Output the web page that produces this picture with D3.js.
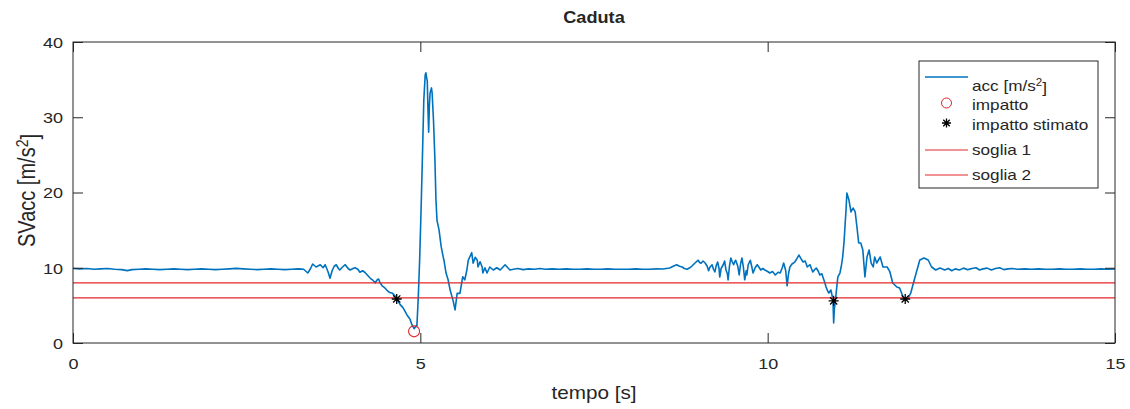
<!DOCTYPE html>
<html><head><meta charset="utf-8">
<script src="https://cdn.jsdelivr.net/npm/d3@7"></script>
<style>
body{margin:0;background:#fff}
svg{display:block}
text{font-family:Arial,"Liberation Sans",sans-serif;fill:#262626}
</style></head>
<body><svg id="c" width="1130" height="409"></svg>
<script>
// ---------- DATA ----------
const accData = [
[0,9.9],[0.1,9.85],[0.2,9.9],[0.3,9.8],[0.4,9.85],[0.5,9.9],[0.6,9.8],[0.7,9.75],[0.78,9.62],[0.85,9.75],[0.95,9.8],[1.05,9.85],[1.15,9.8],[1.25,9.75],[1.35,9.8],[1.45,9.85],[1.55,9.8],[1.65,9.75],[1.75,9.8],[1.85,9.85],[1.95,9.8],[2.05,9.75],[2.15,9.8],[2.25,9.85],[2.35,9.92],[2.45,9.85],[2.55,9.8],[2.65,9.75],[2.75,9.8],[2.85,9.85],[2.95,9.8],[3.05,9.75],[3.15,9.8],[3.25,9.85],[3.32,9.8],
[3.38,9.3],[3.42,9.9],[3.45,10.5],[3.50,10.1],[3.56,10.4],[3.60,10.0],[3.63,10.4],[3.67,9.5],[3.70,8.6],[3.73,9.6],[3.76,10.2],[3.79,10.4],[3.82,9.9],[3.84,9.7],[3.88,10.1],[3.92,10.4],[3.96,9.9],[3.99,9.7],[4.03,9.9],[4.06,10.0],[4.10,9.8],[4.13,9.4],[4.17,9.6],[4.20,9.4],[4.24,9.0],[4.28,8.6],[4.31,8.4],[4.35,8.0],[4.38,8.4],[4.40,8.5],[4.42,8.0],[4.45,7.6],[4.48,7.4],[4.52,7.0],[4.56,6.7],[4.60,6.6],[4.64,6.2],[4.66,5.85],[4.71,5.1],[4.75,4.7],[4.81,3.7],[4.85,3.2],[4.88,2.4],[4.91,1.9],[4.94,2.3],
[4.95,2.2],[4.97,6.0],[4.99,11.0],[5.01,17.5],[5.03,24.7],[5.05,32.3],[5.07,35.6],[5.08,35.9],[5.09,35.3],[5.10,34.8],[5.11,31.0],[5.12,28.0],[5.13,31.5],[5.14,33.2],[5.16,33.9],[5.17,33.2],[5.19,29.5],[5.21,24.3],[5.225,19.0],[5.24,16.3],[5.27,15.0],[5.30,12.8],[5.33,11.4],[5.34,11.0],[5.37,9.3],[5.40,8.4],[5.43,7.0],[5.47,5.7],[5.50,4.4],[5.53,6.6],[5.57,6.6],[5.61,8.8],[5.64,8.4],[5.67,9.7],[5.69,11.0],[5.71,11.4],[5.74,12.0],[5.76,10.6],[5.79,11.4],[5.82,11.0],[5.83,10.1],[5.86,10.8],[5.89,10.1],[5.90,9.3],[5.93,10.0],[5.96,9.3],[6.00,10.1],[6.05,9.7],[6.10,10.0],[6.15,9.7],[6.19,10.1],[6.22,10.4],[6.26,10.0],[6.29,9.7],[6.34,9.8],
[6.40,9.9],[6.48,9.75],[6.56,9.85],[6.64,9.8],[6.72,9.9],[6.80,9.8],[6.90,9.85],[7.0,9.8],[7.1,9.85],[7.2,9.8],[7.3,9.8],[7.4,9.85],[7.5,9.8],[7.6,9.8],[7.7,9.85],[7.8,9.8],[7.9,9.8],[8.0,9.8],[8.1,9.85],[8.2,9.8],[8.3,9.8],[8.4,9.85],[8.49,9.83],
[8.59,9.97],[8.64,10.2],[8.69,10.4],[8.73,10.2],[8.77,10.1],[8.80,9.9],[8.84,9.8],[8.88,10.0],[8.91,10.23],[8.95,10.6],[9.00,11.0],[9.02,10.7],[9.04,10.6],[9.07,10.9],[9.10,10.63],[9.13,10.2],[9.15,9.6],[9.17,10.1],[9.20,10.4],[9.22,9.8],[9.24,9.44],[9.26,10.3],[9.28,10.76],[9.30,9.9],[9.31,8.77],[9.33,9.9],[9.36,10.4],[9.38,10.9],[9.40,9.7],[9.42,9.2],[9.43,8.37],[9.45,10.2],[9.47,11.3],[9.49,10.8],[9.51,10.4],[9.53,10.9],[9.54,11.0],[9.57,10.2],[9.59,9.04],[9.61,10.5],[9.63,11.3],[9.65,10.1],[9.67,8.4],[9.69,9.6],[9.70,9.04],[9.72,10.4],[9.75,11.0],[9.77,10.2],[9.79,9.3],[9.82,10.0],[9.85,10.4],[9.88,10.0],[9.90,9.7],[9.93,9.9],[9.96,9.7],[10.00,9.5],[10.03,9.3],[10.07,9.5],[10.11,9.04],[10.15,9.4],[10.18,9.3],[10.21,10.0],[10.23,10.63],[10.26,9.6],[10.28,7.6],[10.30,9.2],[10.32,10.1],[10.35,10.5],[10.39,10.76],[10.42,11.2],[10.45,11.69],[10.48,11.2],[10.51,10.76],[10.54,10.9],[10.57,10.1],[10.61,10.4],[10.63,9.9],[10.65,9.44],[10.68,9.8],[10.70,9.97],[10.73,9.5],[10.75,9.04],[10.78,9.2],[10.80,8.64],[10.82,8.1],[10.84,7.44],[10.86,7.0],[10.88,6.64],[10.91,7.04],[10.93,6.2],[10.94,5.71],[10.95,2.66],[10.96,4.5],[10.98,6.11],[11.01,8.77],[11.04,9.3],[11.06,10.2],[11.08,11.43],[11.10,13.5],[11.11,15.02],[11.13,18.0],[11.14,19.93],[11.17,19.0],[11.20,17.41],[11.23,17.94],[11.26,17.41],[11.29,15.02],[11.31,13.29],[11.34,13.29],[11.37,12.36],[11.40,8.77],[11.43,11.43],[11.46,12.36],[11.49,10.63],[11.52,10.1],[11.54,11.43],[11.57,10.63],[11.62,11.43],[11.66,10.1],[11.72,10.1],[11.76,9.44],[11.80,7.97],[11.86,7.44],[11.90,7.31],[11.95,6.11],[11.98,5.71],[12.02,5.98],[12.06,6.64],[12.11,8.37],[12.15,9.7],[12.19,11.03],[12.25,11.3],[12.31,11.03],[12.36,10.1],[12.42,9.7],[12.48,9.97],[12.55,9.7],
[12.6,9.9],[12.65,9.6],[12.7,9.85],[12.76,9.7],[12.82,9.95],[12.88,9.75],[12.94,9.9],[13.0,10.0],[13.05,9.7],[13.1,9.85],[13.16,9.95],[13.22,9.7],[13.28,9.9],[13.34,10.0],[13.4,9.75],[13.46,9.85],[13.52,9.9],[13.6,9.8],[13.7,9.85],[13.8,9.8],[13.9,9.85],[14.0,9.8],[14.1,9.8],[14.2,9.85],[14.3,9.8],[14.4,9.8],[14.5,9.85],[14.6,9.8],[14.7,9.8],[14.8,9.85],[14.9,9.8],[15.0,9.85]
];
const impattoT = [4.91];
const impattoV = [1.55];
const stimatoT = [4.66, 10.95, 11.98];
const stimatoV = [5.85, 5.6, 5.85];
const soglia1 = 8;
const soglia2 = 6;
const xTicks = [0, 5, 10, 15];
const yTicks = [0, 10, 20, 30, 40];
const legendLabels = ["acc [m/s", "impatto", "impatto stimato", "soglia 1", "soglia 2"];

// ---------- DRAW ----------
const svg = d3.select("#c");
const L = 73, R = 1115, T = 42, B = 343;
const SX = 1.2;
const x = d3.scaleLinear().domain([0, 15]).range([L, R]);
const y = d3.scaleLinear().domain([0, 40]).range([B, T]);
const axisCol = "#262626";
const red = "#e3262b";

svg.append("rect").attr("width",1130).attr("height",409).attr("fill","#fff");

svg.append("path").datum(accData)
  .attr("d", d3.line().x(d => x(d[0])).y(d => y(d[1])))
  .attr("fill","none").attr("stroke","#0072BD").attr("stroke-width",1.6).attr("stroke-linejoin","round");

[soglia1, soglia2].forEach(v => {
  svg.append("line").attr("x1", x(0)).attr("x2", x(15)).attr("y1", y(v)).attr("y2", y(v))
    .attr("stroke",red).attr("stroke-width",1.2);
});

impattoT.forEach((t,i) => {
  svg.append("circle").attr("cx", x(t)).attr("cy", y(impattoV[i])).attr("r",5.5)
    .attr("fill","none").attr("stroke",red).attr("stroke-width",1.1);
});

function star(g, cx, cy, r){
  const p = d3.path();
  p.moveTo(cx-r,cy); p.lineTo(cx+r,cy);
  p.moveTo(cx,cy-r); p.lineTo(cx,cy+r);
  const d = r*0.72;
  p.moveTo(cx-d,cy-d); p.lineTo(cx+d,cy+d);
  p.moveTo(cx-d,cy+d); p.lineTo(cx+d,cy-d);
  g.append("path").attr("d", p.toString()).attr("stroke","#000").attr("stroke-width",1.3).attr("fill","none");
}
stimatoT.forEach((t,i) => star(svg, x(t), y(stimatoV[i]), 5));

function styleAxis(g){
  g.select(".domain").remove();
  g.selectAll(".tick line").attr("stroke",axisCol).attr("stroke-width",1);
}
const gB = svg.append("g").attr("transform",`translate(0,${B})`)
  .call(d3.axisBottom(x).tickValues(xTicks).tickSizeInner(-10).tickSizeOuter(0).tickPadding(0));
styleAxis(gB);
gB.selectAll(".tick text").attr("y",0).attr("dy","0.71em")
  .attr("transform",`translate(0,15) scale(${SX},1)`).style("font-size","15px").attr("fill",axisCol);

const gL = svg.append("g").attr("transform",`translate(${L},0)`)
  .call(d3.axisLeft(y).tickValues(yTicks).tickSizeInner(-10).tickSizeOuter(0).tickPadding(0));
styleAxis(gL);
gL.selectAll(".tick text").attr("x",0).attr("dy","0.36em")
  .attr("transform",`translate(-10,0) scale(${SX},1)`).style("font-size","15px").attr("fill",axisCol);

const gT = svg.append("g").attr("transform",`translate(0,${T})`)
  .call(d3.axisTop(x).tickValues(xTicks).tickSizeInner(-10).tickSizeOuter(0).tickFormat(""));
styleAxis(gT);
const gR = svg.append("g").attr("transform",`translate(${R},0)`)
  .call(d3.axisRight(y).tickValues(yTicks).tickSizeInner(-10).tickSizeOuter(0).tickFormat(""));
styleAxis(gR);

svg.append("rect").attr("x",L).attr("y",T).attr("width",R-L).attr("height",B-T)
  .attr("fill","none").attr("stroke",axisCol).attr("stroke-width",1);

svg.append("text").attr("transform",`translate(${(L+R)/2},23) scale(1.1,1)`)
  .attr("text-anchor","middle").style("font-size","16.5px").style("font-weight","bold").attr("fill","#000").text("Caduta");

svg.append("text").attr("transform",`translate(${(L+R)/2},399) scale(1.15,1)`)
  .attr("text-anchor","middle").style("font-size","18px").text("tempo [s]");

const yl = svg.append("text").attr("transform",`translate(35,${(T+B)/2 - 2}) scale(1.15,1) rotate(-90)`)
  .attr("text-anchor","middle").style("font-size","20px");
yl.append("tspan").text("SVacc [m/s");
yl.append("tspan").attr("dy","-0.45em").style("font-size","14px").text("2");
yl.append("tspan").attr("dy","0.45em").text("]");

const lg = svg.append("g");
lg.append("rect").attr("x",919).attr("y",61).attr("width",179).attr("height",127)
  .attr("fill","#fff").attr("stroke",axisCol).attr("stroke-width",1);
const rows = [77, 103, 123, 150, 175];
const lx1 = 925, lx2 = 968, tx = 972;
lg.append("line").attr("x1",lx1).attr("x2",lx2).attr("y1",rows[0]).attr("y2",rows[0]).attr("stroke","#0072BD").attr("stroke-width",1.6);
lg.append("circle").attr("cx",(lx1+lx2)/2).attr("cy",rows[1]).attr("r",5).attr("fill","none").attr("stroke",red);
star(lg, (lx1+lx2)/2, rows[2], 4.5);
lg.append("line").attr("x1",lx1).attr("x2",lx2).attr("y1",rows[3]).attr("y2",rows[3]).attr("stroke",red).attr("stroke-width",1.2);
lg.append("line").attr("x1",lx1).attr("x2",lx2).attr("y1",rows[4]).attr("y2",rows[4]).attr("stroke",red).attr("stroke-width",1.2);
const baseOff = [14, 7, 7, 5, 5];
legendLabels.forEach((s,i) => {
  const t = lg.append("text").attr("transform",`translate(${tx},${rows[i]+baseOff[i]}) scale(1.16,1)`).style("font-size","14.8px");
  t.append("tspan").text(s);
  if (i === 0) {
    t.append("tspan").attr("dy","-0.5em").style("font-size","10px").text("2");
    t.append("tspan").attr("dy","0.5em").text("]");
  }
});
</script></body></html>
